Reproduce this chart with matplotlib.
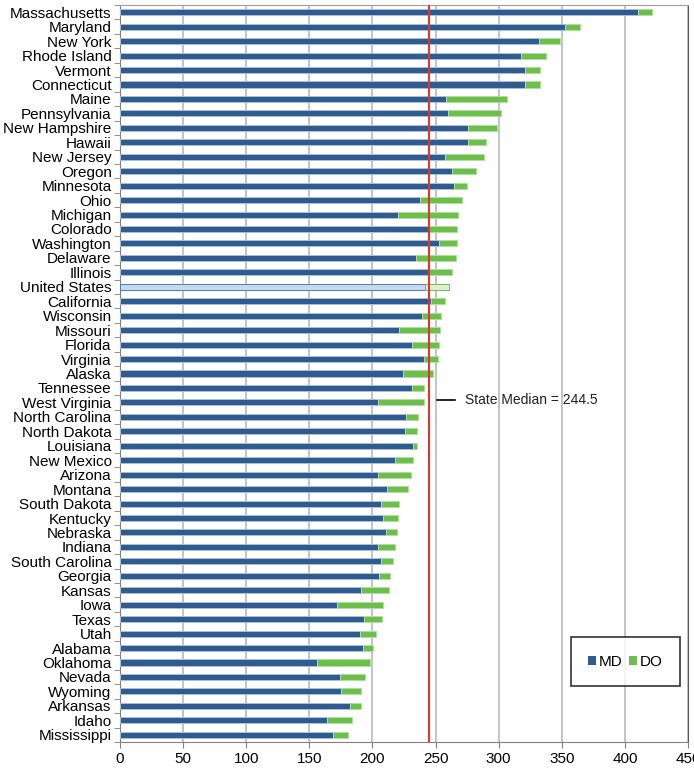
import matplotlib
matplotlib.use('Agg')
import matplotlib.pyplot as plt
import numpy as np

states = ['Massachusetts', 'Maryland', 'New York', 'Rhode Island', 'Vermont',
          'Connecticut', 'Maine', 'Pennsylvania', 'New Hampshire', 'Hawaii',
          'New Jersey', 'Oregon', 'Minnesota', 'Ohio', 'Michigan', 'Colorado',
          'Washington', 'Delaware', 'Illinois', 'United States', 'California',
          'Wisconsin', 'Missouri', 'Florida', 'Virginia', 'Alaska', 'Tennessee',
          'West Virginia', 'North Carolina', 'North Dakota', 'Louisiana',
          'New Mexico', 'Arizona', 'Montana', 'South Dakota', 'Kentucky',
          'Nebraska', 'Indiana', 'South Carolina', 'Georgia', 'Kansas', 'Iowa',
          'Texas', 'Utah', 'Alabama', 'Oklahoma', 'Nevada', 'Wyoming',
          'Arkansas', 'Idaho', 'Mississippi']

md = [410.4, 352.5, 331.8, 317.4, 320.9, 320.9, 258.5, 259.9, 276.0, 276.0,
      257.8, 263.4, 264.8, 237.5, 220.6, 244.8, 252.5, 234.3, 244.8, 241.7,
      246.2, 239.2, 221.3, 231.5, 240.6, 224.1, 231.1, 204.1, 226.6, 225.5,
      231.8, 218.2, 204.1, 211.9, 206.6, 208.7, 210.5, 204.1, 206.6, 205.5,
      191.2, 171.9, 193.3, 189.8, 192.2, 156.4, 174.0, 174.7, 182.4, 163.8,
      169.1]

total = [421.3, 364.1, 348.6, 337.4, 332.9, 332.9, 306.6, 302.0, 298.5, 290.1,
         288.7, 281.7, 275.3, 270.8, 267.6, 267.3, 266.6, 265.9, 262.7, 260.6,
         257.1, 254.3, 253.6, 252.9, 252.2, 247.6, 241.0, 240.6, 235.7, 235.4,
         235.4, 231.8, 230.8, 228.3, 221.0, 220.6, 219.6, 218.2, 216.4, 214.3,
         212.9, 208.3, 207.6, 203.1, 200.6, 197.8, 194.3, 191.2, 190.8, 184.1,
         181.0]

do = [t - m for t, m in zip(total, md)]

state_median = 244.5

plt.rcParams['font.family'] = ['Liberation Sans', 'DejaVu Sans']

fig = plt.figure(figsize=(6.94, 7.72), dpi=100)
ax = fig.add_axes([120 / 694, 1 - 742 / 772, 568 / 694, 737 / 772])

y = np.arange(len(states))
md_face = ['#C6D9F1' if s == 'United States' else '#2F5B8F' for s in states]
md_edge = ['#4F7FB5' if s == 'United States' else '#A9BFDA' for s in states]
do_face = ['#DCF0CF' if s == 'United States' else '#6BBF4A' for s in states]
do_edge = ['#6BBF4A' if s == 'United States' else '#B5DDA3' for s in states]

ax.barh(y, md, height=0.42, color=md_face, edgecolor=md_edge, linewidth=0.7,
        label='MD', zorder=3)
ax.barh(y, do, left=md, height=0.42, color=do_face, edgecolor=do_edge,
        linewidth=0.7, label='DO', zorder=3)

ax.axvline(state_median, color='#E0362C', linewidth=1.5, zorder=4)

ann_y = 26.8
ax.plot([251.2, 265.5], [ann_y, ann_y], color='black', linewidth=1.2,
        clip_on=False, zorder=5)
ax.text(273.4, ann_y, f'State Median = {state_median}', va='center',
        ha='left', fontsize=10, color='#222222')

ax.set_xlim(0, 450)
ax.set_ylim(len(states) - 0.5, -0.5)
ax.set_xticks(np.arange(0, 451, 50))
ax.set_yticks(y)
ax.set_yticklabels(states)
ax.set_yticks(np.arange(-0.5, len(states), 1), minor=True)
ax.tick_params(axis='y', which='major', length=0, pad=6, labelsize=11)
ax.tick_params(axis='y', which='minor', length=4, color='#808080')
ax.tick_params(axis='x', length=4, color='#808080', labelsize=11, pad=3)
ax.grid(axis='x', color='#BFBFBF', linewidth=1.3, zorder=0)
ax.set_axisbelow(True)

for side in ['left', 'bottom']:
    ax.spines[side].set_color('#808080')
ax.spines['right'].set_color('#595959')
ax.spines['top'].set_color('#A0A0A0')

leg = ax.legend(loc='center', bbox_to_anchor=(0.89, 0.109), ncol=2,
                fontsize=11, frameon=True, fancybox=False, edgecolor='black',
                borderpad=1.15, borderaxespad=0, handlelength=0.5,
                handleheight=0.5, handletextpad=0.2, columnspacing=0.4)
leg.get_frame().set_linewidth(1.2)
for h in leg.legend_handles:
    h.set_edgecolor('none')

fig.savefig('out.png', dpi=100)
